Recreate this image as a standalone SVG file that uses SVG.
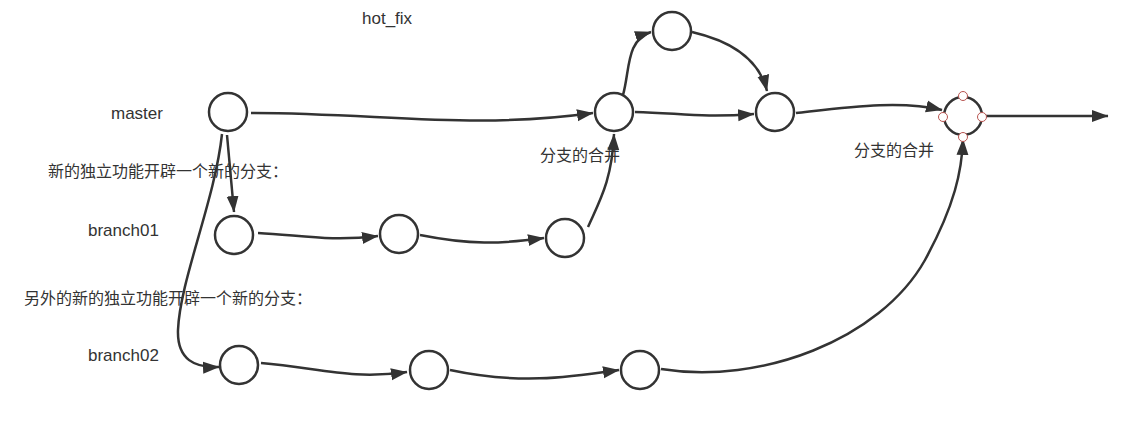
<svg xmlns="http://www.w3.org/2000/svg" width="1134" height="439" viewBox="0 0 1134 439">
<defs>
<marker id="arr" viewBox="0 0 17 13" refX="16" refY="6.5" markerWidth="17" markerHeight="13" markerUnits="userSpaceOnUse" orient="auto">
<path d="M0,0.5 L16.5,6.5 L0,12.5 Z" fill="#333"/>
</marker>
<style>
.n{fill:#fff;stroke:#333;stroke-width:2.5}
.e{fill:none;stroke:#333;stroke-width:2.5;marker-end:url(#arr)}
.p{fill:#fff;stroke:#b85450;stroke-width:1}
.t{font-family:"Liberation Sans","Noto Sans CJK SC",sans-serif;font-size:16px;fill:#333}
.l{font-family:"Liberation Sans",sans-serif;font-size:17px;fill:#333}
</style>
</defs>
<rect width="1134" height="439" fill="#fff"/>
<g id="labels">
<text class="l" x="362" y="24">hot_fix</text>
<text class="l" x="111" y="119">master</text>
<text class="l" x="88" y="236">branch01</text>
<text class="l" x="88" y="361">branch02</text>
<text class="t" x="48" y="177">新的独立功能开辟一个新的分支：</text>
<text class="t" x="24" y="304">另外的新的独立功能开辟一个新的分支：</text>
<text class="t" x="540" y="161">分支的合并</text>
<text class="t" x="854" y="156">分支的合并</text>
</g>
<g id="connectors">
<path class="e" d="M251,113 C380,113 470,130 593,113"/>
<path class="e" d="M227,135 L234,212"/>
<path class="e" d="M222,134 C215,200 180,280 178,330 C177,360 195,368 219,367"/>
<path class="e" d="M258,233 C300,235 330,242 378,236"/>
<path class="e" d="M420,235 C470,245 500,244 544,238"/>
<path class="e" d="M588,227 C600,200 612,180 614,134"/>
<path class="e" d="M623,95 C630,70 626,40 651,32"/>
<path class="e" d="M692,32 C735,42 760,62 767,91"/>
<path class="e" d="M635,112 C680,113 700,118 754,114"/>
<path class="e" d="M796,113 C850,107 900,100 942,110"/>
<path class="e" d="M984,116 L1108,116"/>
<path class="e" d="M261,363 C320,368 350,380 407,372"/>
<path class="e" d="M450,370 C520,385 570,377 619,370"/>
<path class="e" d="M661,369 C760,385 880,340 925,260 C955,205 962,170 963,139"/>
</g>
<g id="master"><circle class="n" cx="228" cy="112" r="19"/></g>
<g id="b1n1"><circle class="n" cx="234" cy="235" r="19"/></g>
<g id="b1n2"><circle class="n" cx="399" cy="234" r="19"/></g>
<g id="b1n3"><circle class="n" cx="565" cy="238" r="19"/></g>
<g id="merge1"><circle class="n" cx="614" cy="112" r="19"/></g>
<g id="hotfix"><circle class="n" cx="672" cy="31" r="19"/></g>
<g id="merge2"><circle class="n" cx="775" cy="112" r="19"/></g>
<g id="final">
<circle class="n" cx="963" cy="116" r="19"/>
<circle class="p" cx="963" cy="96" r="4.5"/>
<circle class="p" cx="943" cy="117" r="4.5"/>
<circle class="p" cx="982" cy="117" r="4.5"/>
<circle class="p" cx="963" cy="137" r="4.5"/>
</g>
<g id="b2n1"><circle class="n" cx="239" cy="365" r="19"/></g>
<g id="b2n2"><circle class="n" cx="429" cy="370" r="19"/></g>
<g id="b2n3"><circle class="n" cx="640" cy="370" r="19"/></g>
</svg>
